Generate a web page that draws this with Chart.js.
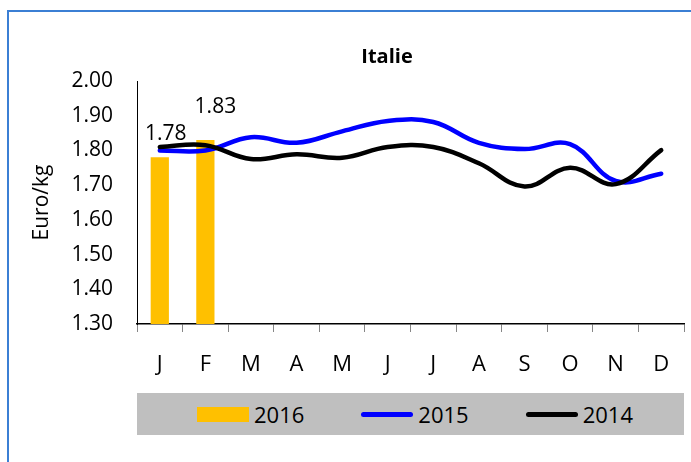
<!DOCTYPE html>
<html>
<head>
<meta charset="utf-8">
<script src="https://cdn.jsdelivr.net/npm/chart.js@4.4.1/dist/chart.umd.min.js"></script>
<style>
  body { margin: 0; background: #fff; font-family: "Open Sans", sans-serif; }
  #wrap { position: relative; width: 691px; height: 462px; overflow: hidden; }
  #frame { position: absolute; left: 7px; top: 10px; width: 720px; height: 480px;
           border-left: 2px solid #3b7fd4; border-top: 2px solid #3b7fd4; }
  #chart { position: absolute; left: 0; top: 0; }
  #legend { position: absolute; left: 137px; top: 393px; width: 547px; height: 42px;
            background: #bfbfbf; display: flex; align-items: center;
            padding-left: 60px; box-sizing: border-box; }
  .item { display: flex; align-items: center; margin-right: 57px; font-size: 22px; color: #000; }
  .swatch { width: 52px; margin-right: 5px; }
</style>
</head>
<body>
<div id="wrap">
  <div id="frame"></div>
  <canvas id="chart" width="691" height="462"></canvas>
  <div id="legend"></div>
</div>
<script>
const months = ['J', 'F', 'M', 'A', 'M', 'J', 'J', 'A', 'S', 'O', 'N', 'D'];
const prices2016 = [1.78, 1.83, null, null, null, null, null, null, null, null, null, null];
const prices2015 = [1.80, 1.80, 1.838, 1.822, 1.855, 1.885, 1.882, 1.822, 1.804, 1.818, 1.712, 1.733];
const prices2014 = [1.81, 1.815, 1.775, 1.789, 1.779, 1.81, 1.81, 1.763, 1.696, 1.75, 1.703, 1.801];
const yMin = 1.30, yMax = 2.00, yStep = 0.10;

const FONT = '"Open Sans", sans-serif';

// value labels above the 2016 bars (positions nudged like in the source)
const barLabels = {
  id: 'barLabels',
  afterDatasetsDraw(chart, args, opts) {
    const ctx = chart.ctx;
    const meta = chart.getDatasetMeta(0);
    ctx.save();
    ctx.font = '21px ' + FONT;
    ctx.fillStyle = '#000';
    ctx.textAlign = 'center';
    ctx.textBaseline = 'alphabetic';
    meta.data.forEach((bar, i) => {
      const v = chart.data.datasets[0].data[i];
      if (v == null) return;
      const off = opts.offsets[i] || [0, 0];
      ctx.fillText(v.toFixed(2), bar.x + off[0], bar.y + off[1]);
    });
    ctx.restore();
  }
};

// title sits a bit left of the plot centre
const chartTitle = {
  id: 'chartTitle',
  afterDraw(chart, args, opts) {
    const ctx = chart.ctx;
    ctx.save();
    ctx.font = 'bold 20px ' + FONT;
    ctx.fillStyle = '#000';
    ctx.textAlign = 'center';
    ctx.textBaseline = 'alphabetic';
    ctx.fillText(opts.text, opts.x, opts.y);
    ctx.restore();
  }
};

const chart = new Chart(document.getElementById('chart'), {
  type: 'bar',
  data: {
    labels: months,
    datasets: [
      { label: '2016', data: prices2016, backgroundColor: '#ffc000',
        barPercentage: 0.4, categoryPercentage: 1, order: 3 },
      { type: 'line', label: '2015', data: prices2015, borderColor: '#0000ff',
        borderWidth: 4.5, tension: 0.4, pointRadius: 0, borderCapStyle: 'round', order: 2 },
      { type: 'line', label: '2014', data: prices2014, borderColor: '#000000',
        borderWidth: 4.5, tension: 0.4, pointRadius: 0, borderCapStyle: 'round', order: 1 }
    ]
  },
  options: {
    responsive: false,
    animation: false,
    events: [],
    layout: { padding: { left: 10, right: 7, top: 81, bottom: 78 } },
    plugins: {
      legend: { display: false },
      tooltip: { enabled: false },
      title: { display: false },
      chartTitle: { text: 'Italie', x: 387, y: 63 },
      barLabels: { offsets: [[6, -17], [10, -27]] }
    },
    scales: {
      x: {
        offset: true,
        grid: { offset: true, drawOnChartArea: false, tickLength: 8, color: '#868686' },
        border: { color: '#000', width: 1.5 },
        ticks: { color: '#000', font: { family: FONT, size: 22 }, padding: 20, maxRotation: 0 },
        afterFit: s => { s.height = 60; }
      },
      y: {
        min: yMin,
        max: yMax,
        grid: { display: false, drawTicks: false },
        border: { color: '#000', width: 1 },
        ticks: { stepSize: yStep, color: '#000', font: { family: FONT, size: 21 }, padding: 24,
                 callback: v => v.toFixed(2) },
        title: { display: true, text: 'Euro/kg', color: '#000',
                 font: { family: FONT, size: 21 }, padding: { top: 19, bottom: 0 } },
        afterFit: s => { s.width = 127; }
      }
    }
  },
  plugins: [barLabels, chartTitle]
});

// html legend built from the datasets
const legend = document.getElementById('legend');
chart.data.datasets.forEach(ds => {
  const item = document.createElement('div');
  item.className = 'item';
  const sw = document.createElement('span');
  sw.className = 'swatch';
  if (ds.type === 'line') {
    sw.style.height = '5px';
    sw.style.borderRadius = '3px';
    sw.style.background = ds.borderColor;
  } else {
    sw.style.height = '15px';
    sw.style.background = ds.backgroundColor;
  }
  item.appendChild(sw);
  item.appendChild(document.createTextNode(ds.label));
  legend.appendChild(item);
});
</script>
</body>
</html>
